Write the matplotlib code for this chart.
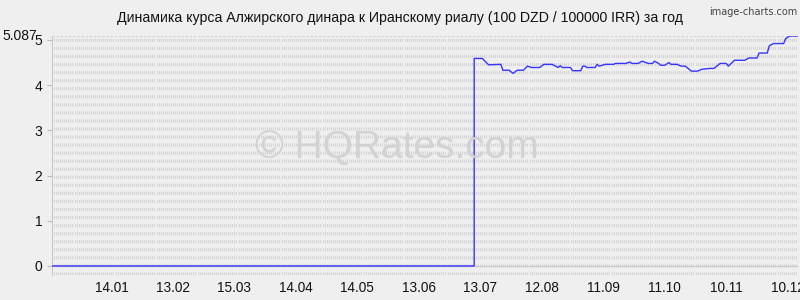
import matplotlib
matplotlib.use("Agg")
import matplotlib.pyplot as plt
import pandas as pd

plt.rcParams['font.family'] = ['Liberation Sans', 'DejaVu Sans']
plt.rcParams['lines.scale_dashes'] = False

title = "Динамика курса Алжирского динара к Иранскому риалу (100 DZD / 100000 IRR) за год"

start = pd.Timestamp("2014-12-16")
end = pd.Timestamp("2015-12-15")

# days since start, rate values
days = [0, 206, 206, 210, 213, 219, 220, 223, 225, 227, 230, 232, 234, 238, 240,
        244, 247, 248, 249, 253, 254, 258, 259, 260, 261, 265, 266, 267, 270, 274,
        275, 280, 282, 283, 286, 288, 291, 293, 294, 296, 297, 299, 301, 302, 305,
        307, 309, 312, 315, 317, 321, 323, 326, 329, 330, 333, 338, 340, 344, 345,
        349, 350, 352, 357, 358, 360, 364]
rates = [0, 0, 4.59, 4.59, 4.45, 4.46, 4.33, 4.33, 4.26, 4.33, 4.33, 4.42, 4.39, 4.39, 4.46,
         4.46, 4.39, 4.43, 4.39, 4.39, 4.32, 4.32, 4.42, 4.42, 4.39, 4.39, 4.46, 4.42, 4.46, 4.46,
         4.48, 4.48, 4.51, 4.48, 4.48, 4.53, 4.48, 4.48, 4.53, 4.48, 4.44, 4.44, 4.50, 4.46, 4.46,
         4.42, 4.42, 4.31, 4.31, 4.35, 4.37, 4.37, 4.48, 4.48, 4.42, 4.55, 4.55, 4.60, 4.60, 4.71,
         4.71, 4.87, 4.92, 4.92, 5.03, 5.087, 5.087]
max_rate = 5.087

tick_dates = ["2015-01-14", "2015-02-13", "2015-03-15", "2015-04-14", "2015-05-14", "2015-06-13",
              "2015-07-13", "2015-08-12", "2015-09-11", "2015-10-11", "2015-11-10", "2015-12-10"]
tick_labels = ["14.01", "13.02", "15.03", "14.04", "14.05", "13.06",
               "13.07", "12.08", "11.09", "11.10", "10.11", "10.12"]

dates = start + pd.to_timedelta(days, unit="D")
bg = "#efefef"

fig = plt.figure(figsize=(8, 3), dpi=100, facecolor=bg)
ax = fig.add_axes([52/800, 25/300, 746/800, 239/300])
ax.set_facecolor(bg)

# dense dashed day grid
grid_days = pd.date_range(start, end, freq="D")
ax.vlines(grid_days, -0.2, max_rate, colors="#d3d3d3", linewidth=0.75,
          linestyles=[(0, (2.2, 3.6))], zorder=1)
ax.axhline(max_rate, color="#cfcfcf", linewidth=0.75, linestyle=(0, (1.5, 1.5)), zorder=1)
ax.axhline(-0.2, color="#cfcfcf", linewidth=0.75, linestyle=(0, (1.5, 1.5)), zorder=1)
ax.axhline(0, color="#c8c8c8", linewidth=0.75, zorder=1)

ax.plot(dates, rates, color="#3535ff", linewidth=1.0, zorder=3)

ax.set_xlim(start, end)
ax.set_ylim(-0.2, max_rate)

ax.set_xticks(pd.to_datetime(tick_dates))
ax.set_xticklabels(tick_labels)
ax.set_yticks([0, 1, 2, 3, 4, 5])
ax.set_yticklabels(["0", "1", "2", "3", "4", "5"])
ax.tick_params(axis="x", length=0, pad=4, labelsize=9.8, colors="#111111")
ax.tick_params(axis="y", length=3.5, pad=3.5, labelsize=10, color="#bbbbbb", labelcolor="#111111")
ax.annotate("5.087", xy=(0, max_rate), xycoords=("axes fraction", "data"),
            xytext=(-10.8, 0), textcoords="offset points", ha="right", va="center",
            fontsize=10, color="#111111")

for s in ["top", "right", "bottom"]:
    ax.spines[s].set_visible(False)
ax.spines["left"].set_color("#c8c8c8")
ax.spines["left"].set_linewidth(0.75)

fig.text(0.5, 1 - 18/300, title, ha="center", va="center", fontsize=10.2, color="#111111")
fig.text(797/800, 1 - 12/300, "image-charts.com", ha="right", va="center",
         fontsize=7, color="#444444", family="DejaVu Sans")
fig.text(397/800, 1 - 148/300, "© HQRates.com", ha="center", va="center",
         fontsize=28, color="#d2d2d2", zorder=2)

fig.savefig("out.png", dpi=100, facecolor=bg)
